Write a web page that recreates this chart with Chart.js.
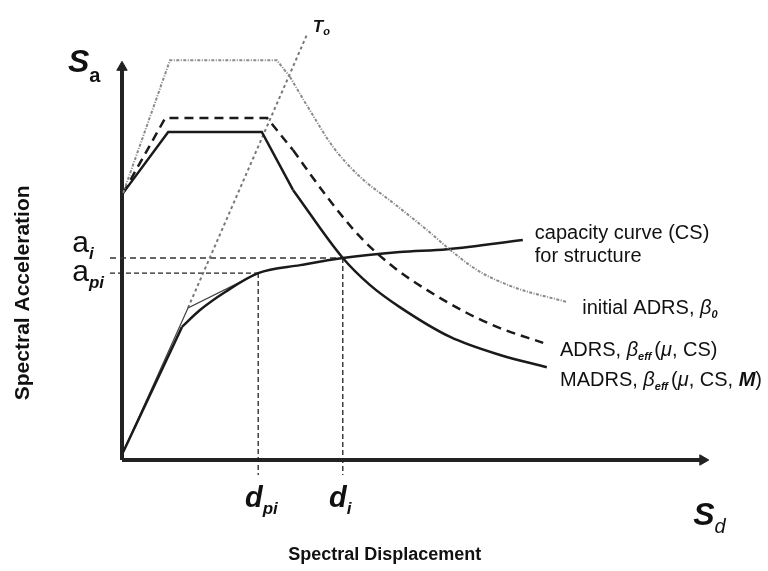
<!DOCTYPE html>
<html>
<head>
<meta charset="utf-8">
<script src="https://cdn.jsdelivr.net/npm/chart.js@4.4.1/dist/chart.umd.min.js"></script>
<style>
  html, body { margin: 0; padding: 0; background: #fff; }
  #wrap { width: 768px; height: 571px; }
</style>
</head>
<body>
<div id="wrap"><canvas id="adrsChart" width="768" height="571"></canvas></div>
<script>
// values (Sd, Sa in arbitrary units 0..100)
// spectra: rising branch + plateau (straight), then the descending branch (smooth)
let initSd  = [0.2, 8.0, 25.8, 28.0];
let initSa  = [63.6, 95.2, 95.2, 91.2];
let initDescSd = [28.0, 31.3, 35.2, 39.7, 45.2, 50.8, 54.3, 59.2, 65.2, 74.2];
let initDescSa = [91.2, 83.3, 74.5, 67.4, 61.2, 54.8, 50.5, 45.2, 41.2, 37.6];

let adrsSd  = [0.2, 7.2, 24.2, 28.5];
let adrsSa  = [63.6, 81.4, 81.4, 73.8];
let adrsDescSd = [28.5, 34.2, 39.7, 45.2, 50.8, 57.5, 63.0, 70.2];
let adrsDescSa = [73.8, 62.6, 53.1, 46.0, 40.5, 35.0, 31.4, 27.9];

let madrsSd = [0.2, 7.7, 23.3, 28.5];
let madrsSa = [63.6, 78.1, 78.1, 64.3];
let madrsDescSd = [28.5, 36.8, 41.3, 46.3, 54.7, 63.0, 70.8];
let madrsDescSa = [64.3, 48.1, 41.7, 36.4, 29.3, 25.0, 22.1];

// capacity curve: elastic branch, then the softening branch
let capSd   = [0.2, 10.0];
let capSa   = [1.9, 31.7];
let capSoftSd = [10.0, 13.0, 17.2, 22.7, 29.7, 36.8, 46.3, 54.2, 66.8];
let capSoftSa = [31.7, 35.7, 40.0, 44.5, 46.4, 48.1, 49.5, 50.2, 52.4];

let bilinSd = [0.2, 11.0, 22.7];
let bilinSa = [1.9, 36.2, 44.5];

let t0Sd = [11.0, 30.8];
let t0Sa = [36.2, 101.2];

let ai = 48.1, api = 44.5, dpi = 22.7, di = 36.8;
let axisTop = 94.0, axisRight = 97.2;

function pts(xs, ys) {
    return xs.map((x, i) => ({ x: x, y: ys[i] }));
}

function line(data, color, width, dash, smooth) {
    return {
        data: data,
        showLine: true,
        borderColor: color,
        backgroundColor: color,
        borderWidth: width,
        borderDash: dash || [],
        pointRadius: 0,
        tension: smooth ? 0.4 : 0,
        cubicInterpolationMode: smooth ? 'monotone' : 'default',
        clip: false
    };
}

let initDash = [3, 1.5, 1, 1.5];
let datasets = [
    line(pts(initSd, initSa), '#8a8a8a', 2, initDash),
    line(pts(initDescSd, initDescSa), '#8a8a8a', 2, initDash, true),
    line(pts(adrsSd, adrsSa), '#1a1a1a', 2.5, [9, 6]),
    line(pts(adrsDescSd, adrsDescSa), '#1a1a1a', 2.5, [9, 6], true),
    line(pts(madrsSd, madrsSa), '#1a1a1a', 2.5),
    line(pts(madrsDescSd, madrsDescSa), '#1a1a1a', 2.5, null, true),
    line(pts(capSd, capSa), '#1a1a1a', 2.5),
    line(pts(capSoftSd, capSoftSa), '#1a1a1a', 2.5, null, true),
    line(pts(bilinSd, bilinSa), '#444', 1.2),
    line(pts(t0Sd, t0Sa), '#777', 2, [3, 3]),
    // reference lines
    line([{ x: -2, y: ai }, { x: di, y: ai }], '#333', 1.3, [6, 4]),
    line([{ x: -2, y: api }, { x: dpi, y: api }], '#222', 1.3, [5, 3]),
    line([{ x: dpi, y: api }, { x: dpi, y: -3.6 }], '#222', 1.3, [5, 3]),
    line([{ x: di, y: ai }, { x: di, y: -3.6 }], '#222', 1.3, [5, 3]),
    // axes
    line([{ x: 0, y: 0 }, { x: 0, y: axisTop }], '#222', 4),
    line([{ x: 0, y: 0 }, { x: axisRight, y: 0 }], '#222', 4),
];

// arrowheads
datasets.push({
    data: [{ x: 0, y: axisTop - 0.5 }],
    pointStyle: 'triangle', pointRadius: 6, pointRotation: 0,
    backgroundColor: '#222', borderColor: '#222', clip: false
});
datasets.push({
    data: [{ x: axisRight - 0.4, y: 0 }],
    pointStyle: 'triangle', pointRadius: 6, pointRotation: 90,
    backgroundColor: '#222', borderColor: '#222', clip: false
});

const F = '"Liberation Sans", Arial, sans-serif';

function rich(ctx, parts, x, y) {
    parts.forEach((p) => {
        ctx.font = p.f;
        ctx.fillText(p.t, x, y + (p.dy || 0));
        x += ctx.measureText(p.t).width + (p.gap || 0);
    });
}

const labelPlugin = {
    id: 'labels',
    afterDatasetsDraw(chart) {
        let ctx = chart.ctx;
        let sx = chart.scales.x, sy = chart.scales.y;
        let X = (v) => sx.getPixelForValue(v);
        let Y = (v) => sy.getPixelForValue(v);
        ctx.save();
        ctx.fillStyle = '#111';
        ctx.textBaseline = 'alphabetic';
        ctx.textAlign = 'left';

        rich(ctx, [{ t: 'S', f: 'italic bold 32px ' + F }, { t: 'a', f: 'bold 20px ' + F, dy: 10 }], X(-9.0), Y(92.4));
        rich(ctx, [{ t: 'a', f: '30px ' + F }, { t: 'i', f: 'italic bold 17px ' + F, dy: 7 }], X(-8.3), Y(49.5));
        rich(ctx, [{ t: 'a', f: '30px ' + F }, { t: 'pi', f: 'italic bold 17px ' + F, dy: 7 }], X(-8.3), Y(42.6));
        rich(ctx, [{ t: 'd', f: 'italic bold 29px ' + F }, { t: 'pi', f: 'italic bold 17px ' + F, dy: 7 }], X(20.5), Y(-11.2));
        rich(ctx, [{ t: 'd', f: 'italic bold 29px ' + F }, { t: 'i', f: 'italic bold 17px ' + F, dy: 7 }], X(34.5), Y(-11.2));
        rich(ctx, [{ t: 'S', f: 'italic bold 32px ' + F }, { t: 'd', f: 'italic 20px ' + F, dy: 8 }], X(95.2), Y(-15.5));
        rich(ctx, [{ t: 'T', f: 'italic bold 17px ' + F }, { t: 'o', f: 'italic bold 11px ' + F, dy: 3 }], X(31.8), Y(101.9));

        let lf = '20px ' + F;
        let bf = 'italic 20px ' + F;
        let sf = 'italic bold 11px ' + F;
        rich(ctx, [{ t: 'capacity curve (CS)', f: lf }], X(68.8), Y(52.6));
        rich(ctx, [{ t: 'for structure', f: lf }], X(68.8), Y(47.1));
        rich(ctx, [{ t: 'initial ADRS, ', f: lf }, { t: 'β', f: bf }, { t: '0', f: sf, dy: 4 }], X(76.7), Y(34.8));
        rich(ctx, [{ t: 'ADRS, ', f: lf }, { t: 'β', f: bf }, { t: 'eff', f: sf, dy: 4, gap: 3 }, { t: '(', f: lf }, { t: 'μ', f: bf }, { t: ', CS)', f: lf }], X(73.0), Y(24.8));
        rich(ctx, [{ t: 'MADRS, ', f: lf }, { t: 'β', f: bf }, { t: 'eff', f: sf, dy: 4, gap: 3 }, { t: '(', f: lf }, { t: 'μ', f: bf }, { t: ', CS, ', f: lf }, { t: 'M', f: 'italic bold 20px ' + F }, { t: ')', f: lf }], X(73.0), Y(17.6));

        // axis titles
        ctx.textAlign = 'center';
        ctx.textBaseline = 'middle';
        ctx.font = 'bold 18px ' + F;
        ctx.fillText('Spectral Displacement', X(43.8), Y(-22.6));
        ctx.save();
        ctx.translate(X(-16.5), Y(39.8));
        ctx.rotate(-Math.PI / 2);
        ctx.font = 'bold 21px ' + F;
        ctx.fillText('Spectral Acceleration', 0, 0);
        ctx.restore();
        ctx.restore();
    }
};

let ctx = document.getElementById('adrsChart').getContext('2d');
let chart = new Chart(ctx, {
    type: 'scatter',
    data: { datasets: datasets },
    options: {
        responsive: false,
        animation: false,
        devicePixelRatio: 1,
        layout: { padding: { left: 122, right: 46, top: 40, bottom: 111 } },
        plugins: { legend: { display: false }, tooltip: { enabled: false } },
        scales: {
            x: { type: 'linear', min: 0, max: 100, display: false },
            y: { type: 'linear', min: 0, max: 100, display: false }
        }
    },
    plugins: [labelPlugin]
});
</script>
</body>
</html>
